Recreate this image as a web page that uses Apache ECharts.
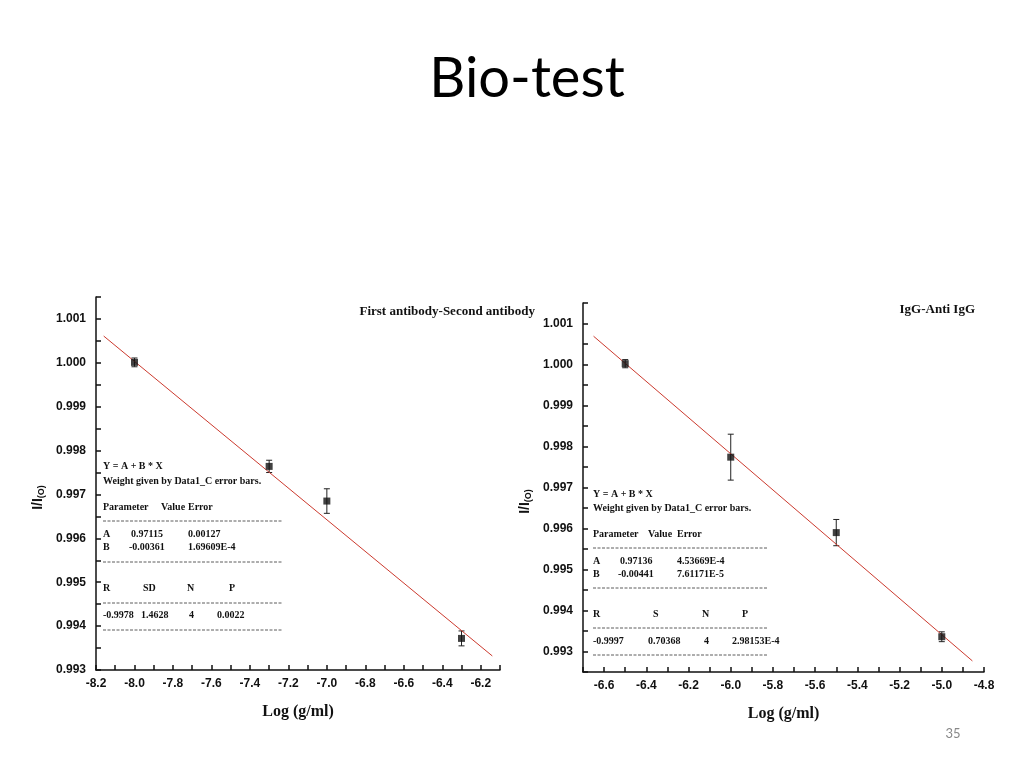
<!DOCTYPE html>
<html><head><meta charset="utf-8">
<script src="https://cdn.jsdelivr.net/npm/echarts@6/dist/echarts.min.js"></script>
<style>html,body{margin:0;padding:0;background:#fff;}#c{width:1024px;height:768px;}</style>
</head><body><div id="c"></div>
<script>
// Left panel: First antibody-Second antibody
var leftX = [-8.0, -7.3, -7.0, -6.3];
var leftY = [1.00001, 0.99764, 0.99685, 0.99372];
var leftErr = [0.0001, 0.00014, 0.00028, 0.00017];
var leftFitX = [-8.16, -6.14];
var leftFitY = [1.00061, 0.99332];
// Right panel: IgG-Anti IgG
var rightX = [-6.5, -6.0, -5.5, -5.0];
var rightY = [1.00002, 0.99774, 0.99590, 0.99336];
var rightErr = [0.0001, 0.00056, 0.00032, 0.00012];
var rightFitX = [-6.65, -4.855];
var rightFitY = [1.00069, 0.99277];

var chart = echarts.init(document.getElementById('c'), null, {renderer:'canvas'});

function pairs(xs, ys){ return xs.map(function(x,i){return [x, ys[i]];}); }
function errData(xs, ys, es){ return xs.map(function(x,i){return [x, ys[i]-es[i], ys[i]+es[i]];}); }

function errRender(params, api){
  var x = api.value(0), lo = api.value(1), hi = api.value(2);
  var pLo = api.coord([x, lo]), pHi = api.coord([x, hi]);
  var w = 3;
  var st = {stroke:'#222', lineWidth:1};
  return {type:'group', children:[
    {type:'line', shape:{x1:pLo[0], y1:pLo[1], x2:pHi[0], y2:pHi[1]}, style:st},
    {type:'line', shape:{x1:pLo[0]-w, y1:pLo[1], x2:pLo[0]+w, y2:pLo[1]}, style:st},
    {type:'line', shape:{x1:pHi[0]-w, y1:pHi[1], x2:pHi[0]+w, y2:pHi[1]}, style:st}
  ]};
}

var axisFont = {fontFamily:"'Liberation Sans Narrow','Liberation Sans',Arial,sans-serif", fontWeight:'bold', fontSize:12, color:'#111'};
function xAxis(idx, min, max){
  return {type:'value', gridIndex:idx, min:min, max:max, interval:0.1,
    axisLine:{onZero:false, lineStyle:{color:'#111', width:1.5}},
    axisTick:{inside:true, length:5, lineStyle:{color:'#111', width:1.5}},
    splitLine:{show:false},
    axisLabel:Object.assign({margin:8, showMinLabel:true, showMaxLabel:true, formatter:function(v){
      return Math.round(v*10) % 2 === 0 ? v.toFixed(1) : '';
    }}, axisFont),
    name:'Log (g/ml)', nameLocation:'middle', nameGap:34,
    nameTextStyle:{fontFamily:"'Liberation Serif','Times New Roman',serif", fontWeight:'bold', fontSize:16, color:'#111'}
  };
}
function yAxis(idx, min, max){
  return {type:'value', gridIndex:idx, min:min, max:max, interval:0.0005,
    axisLine:{onZero:false, lineStyle:{color:'#111', width:1.5}},
    axisTick:{inside:true, length:5, lineStyle:{color:'#111', width:1.5}},
    splitLine:{show:false},
    axisLabel:Object.assign({margin:10, showMinLabel:true, showMaxLabel:true, formatter:function(v){
      return Math.round(v*2000) % 2 === 0 ? v.toFixed(3) : '';
    }}, axisFont),
    name:'{a|I/I}{b|(O)}', nameLocation:'middle', nameRotate:90, nameGap:50,
    nameTextStyle:{padding:[0, 28, 0, 0], rich:{
      a:{fontFamily:"'Liberation Sans',Arial,sans-serif", fontWeight:'bold', fontSize:14, color:'#111'},
      b:{fontFamily:"'Liberation Sans',Arial,sans-serif", fontWeight:'bold', fontSize:9, color:'#111', verticalAlign:'bottom', padding:[6,0,0,0]}
    }}
  };
}

var serif = "'Liberation Serif','Times New Roman',serif";
function t(x, y, s, size, extra){
  return Object.assign({type:'text', x:x, y:y, style:{text:s, font:'bold '+(size||10)+'px '+serif, fill:'#111', textVerticalAlign:'middle'}}, extra||{});
}
function dash(x1, x2, y){
  return {type:'line', shape:{x1:x1, y1:y, x2:x2, y2:y}, style:{stroke:'#333', lineWidth:0.8, lineDash:[3,1.5]}};
}

var g = [];
// Title
g.push({type:'text', x:527, y:79, style:{text:'Bio-test', font:'56px Lato, "Open Sans", sans-serif', fill:'#000', textAlign:'center', textVerticalAlign:'middle'}});
g.push({type:'text', x:953, y:734, style:{text:'35', font:'13px Lato, "Open Sans", sans-serif', fill:'#888', textAlign:'center', textVerticalAlign:'middle'}});
// panel titles
g.push({type:'text', x:535, y:312, style:{text:'First antibody-Second antibody', font:'bold 13px '+serif, fill:'#111', textAlign:'right', textVerticalAlign:'middle'}});
g.push({type:'text', x:975, y:310, style:{text:'IgG-Anti IgG', font:'bold 13px '+serif, fill:'#111', textAlign:'right', textVerticalAlign:'middle'}});
// Left stats box
g.push(t(103, 466, 'Y = A + B * X'));
g.push(t(103, 481, 'Weight given by Data1_C error bars.'));
g.push(t(103, 507, 'Parameter'));
g.push(t(161, 507, 'Value'));
g.push(t(188, 507, 'Error'));
g.push(dash(103, 282, 521));
g.push(t(103, 534, 'A'));
g.push(t(131, 534, '0.97115'));
g.push(t(188, 534, '0.00127'));
g.push(t(103, 547, 'B'));
g.push(t(129, 547, '-0.00361'));
g.push(t(188, 547, '1.69609E-4'));
g.push(dash(103, 282, 562));
g.push(t(103, 588, 'R'));
g.push(t(143, 588, 'SD'));
g.push(t(187, 588, 'N'));
g.push(t(229, 588, 'P'));
g.push(dash(103, 282, 603));
g.push(t(103, 615, '-0.9978'));
g.push(t(141, 615, '1.4628'));
g.push(t(189, 615, '4'));
g.push(t(217, 615, '0.0022'));
g.push(dash(103, 282, 630));
// Right stats box
g.push(t(593, 494, 'Y = A + B * X'));
g.push(t(593, 508, 'Weight given by Data1_C error bars.'));
g.push(t(593, 534, 'Parameter'));
g.push(t(648, 534, 'Value'));
g.push(t(677, 534, 'Error'));
g.push(dash(593, 768, 548));
g.push(t(593, 561, 'A'));
g.push(t(620, 561, '0.97136'));
g.push(t(677, 561, '4.53669E-4'));
g.push(t(593, 574, 'B'));
g.push(t(618, 574, '-0.00441'));
g.push(t(677, 574, '7.61171E-5'));
g.push(dash(593, 768, 588));
g.push(t(593, 614, 'R'));
g.push(t(653, 614, 'S'));
g.push(t(702, 614, 'N'));
g.push(t(742, 614, 'P'));
g.push(dash(593, 768, 628));
g.push(t(593, 641, '-0.9997'));
g.push(t(648, 641, '0.70368'));
g.push(t(704, 641, '4'));
g.push(t(732, 641, '2.98153E-4'));
g.push(dash(593, 768, 655));

var option = {
  backgroundColor:'#fff',
  animation:false,
  grid:[
    {left:96, top:297, width:404, height:373},
    {left:583, top:303, width:401, height:369}
  ],
  xAxis:[xAxis(0, -8.2, -6.1), xAxis(1, -6.7, -4.8)],
  yAxis:[yAxis(0, 0.993, 1.0015), yAxis(1, 0.9925, 1.0015)],
  series:[
    {type:'line', xAxisIndex:0, yAxisIndex:0, data:pairs(leftFitX, leftFitY), symbol:'none', lineStyle:{color:'#cc3a2e', width:1}},
    {type:'custom', xAxisIndex:0, yAxisIndex:0, data:errData(leftX, leftY, leftErr), renderItem:errRender, z:3},
    {type:'scatter', xAxisIndex:0, yAxisIndex:0, data:pairs(leftX, leftY), symbol:'rect', symbolSize:7, itemStyle:{color:'#111'}, z:4},
    {type:'line', xAxisIndex:1, yAxisIndex:1, data:pairs(rightFitX, rightFitY), symbol:'none', lineStyle:{color:'#cc3a2e', width:1}},
    {type:'custom', xAxisIndex:1, yAxisIndex:1, data:errData(rightX, rightY, rightErr), renderItem:errRender, z:3},
    {type:'scatter', xAxisIndex:1, yAxisIndex:1, data:pairs(rightX, rightY), symbol:'rect', symbolSize:7, itemStyle:{color:'#111'}, z:4}
  ],
  graphic:g
};
chart.setOption(option);
</script></body></html>
